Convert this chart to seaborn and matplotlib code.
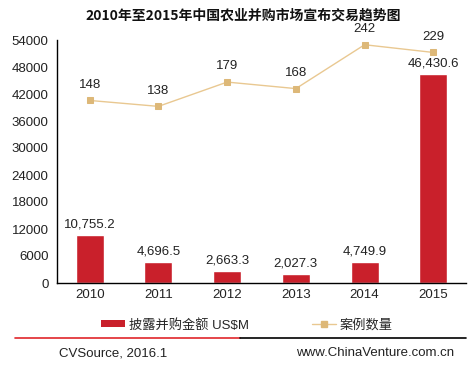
import matplotlib
matplotlib.use("Agg")
import matplotlib.pyplot as plt
import seaborn as sns
import pandas as pd
from matplotlib.lines import Line2D
from matplotlib.patches import Patch

years = ["2010", "2011", "2012", "2013", "2014", "2015"]
amounts = [10755.2, 4696.5, 2663.3, 2027.3, 4749.9, 46430.6]
counts = [148, 138, 179, 168, 242, 229]
yticks = [0, 6000, 12000, 18000, 24000, 30000, 36000, 42000, 48000, 54000]

title = "2010年至2015年中国农业并购市场宣布交易趋势图"
bar_label = "披露并购金额 US$M"
line_label = "案例数量"
source_left = "CVSource, 2016.1"
source_right = "www.ChinaVenture.com.cn"

sns.set_theme(style="white")
plt.rcParams["font.family"] = ["Liberation Sans", "Noto Sans CJK SC", "DejaVu Sans"]

bar_color = "#C9202B"
line_color = "#E9C891"
marker_color = "#DDB878"

df = pd.DataFrame({"year": years, "amount": amounts, "count": counts})

fig = plt.figure(figsize=(4.74, 3.65), dpi=100)
ax = fig.add_axes([57 / 474, 1 - 283 / 365, (466 - 57) / 474, (283 - 40) / 365])

sns.barplot(data=df, x="year", y="amount", color=bar_color, width=0.41,
            saturation=1, ax=ax)
ax.set_ylim(0, 54000)
ax.set_yticks(yticks)
ax.set_yticklabels([str(v) for v in yticks])
ax.set_xlabel("")
ax.set_ylabel("")
ax.tick_params(axis="both", labelsize=9.5, colors="#222222", length=0, pad=6)
ax.tick_params(axis="x", pad=4)
for s in ["top", "right"]:
    ax.spines[s].set_visible(False)
for s in ["left", "bottom"]:
    ax.spines[s].set_color("black")
    ax.spines[s].set_linewidth(1.0)
ax.bar_label(ax.containers[0], labels=[f"{v:,.1f}" for v in amounts],
             padding=3, fontsize=9.5, color="#222222")

ax2 = ax.twinx()
sns.lineplot(data=df, x="year", y="count", ax=ax2, color=line_color, lw=1.0,
             marker="s", markersize=5, markerfacecolor=marker_color,
             markeredgecolor=marker_color)
ax2.set_ylim(-160, 250)
ax2.set_yticks([])
ax2.set_ylabel("")
ax2.set_xlabel("")
for s in ["top", "right", "left", "bottom"]:
    ax2.spines[s].set_visible(False)
for i, c in enumerate(counts):
    ax2.annotate(str(c), (i, c), xytext=(0, 7), textcoords="offset points",
                 ha="center", va="bottom", fontsize=9.5, color="#222222")

fig.text(243 / 474, 1 - 16 / 365, title, ha="center", va="center", fontsize=10,
         fontweight="bold", family=["Noto Sans CJK SC"], color="#111111")

handles = [Patch(facecolor=bar_color, edgecolor="none"),
           Line2D([0], [0], color=line_color, lw=1.0, marker="s", markersize=4,
                  markerfacecolor=marker_color, markeredgecolor=marker_color)]
leg = fig.legend(handles, [bar_label, line_label], loc="center",
                 bbox_to_anchor=(247 / 474, 1 - 325 / 365), ncol=2, frameon=False,
                 fontsize=9.5, handlelength=1.8, handleheight=0.45,
                 handletextpad=0.3, columnspacing=4.8)

fig.add_artist(Line2D([15 / 474, 240 / 474], [1 - 338 / 365] * 2, color="#E0262B", lw=1.2))
fig.add_artist(Line2D([240 / 474, 466 / 474], [1 - 338 / 365] * 2, color="black", lw=1.2))
fig.text(59 / 474, 1 - 353 / 365, source_left, ha="left", va="center",
         fontsize=9.5, color="#222222")
fig.text(454 / 474, 1 - 353 / 365, source_right, ha="right", va="center",
         fontsize=9.5, color="#222222")

fig.savefig("out.png", dpi=100)
